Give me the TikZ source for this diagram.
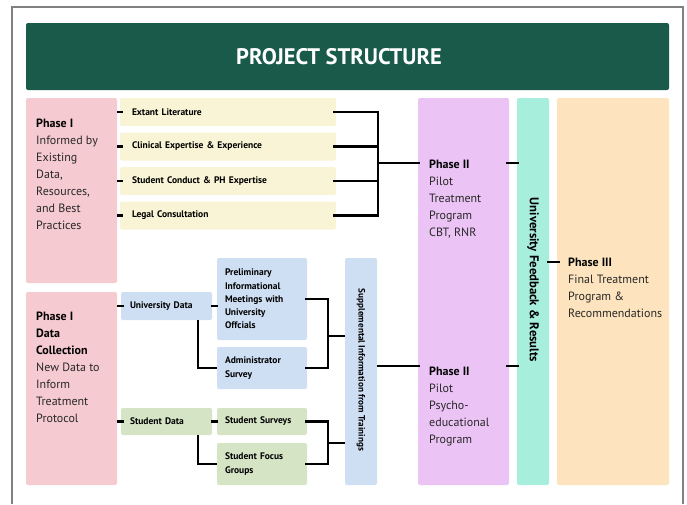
\documentclass[tikz,border=0pt]{standalone}
\usepackage{fontspec}
\setmainfont{PT Sans}
\usetikzlibrary{positioning}

\definecolor{headgreen}{RGB}{26,90,74}
\definecolor{pinkbox}{RGB}{245,202,208}
\definecolor{yelbox}{RGB}{248,244,213}
\definecolor{bluebox}{RGB}{207,223,243}
\definecolor{greenbox}{RGB}{214,228,198}
\definecolor{purplebox}{RGB}{235,196,245}
\definecolor{tealbox}{RGB}{168,238,221}
\definecolor{orangebox}{RGB}{253,228,190}
\definecolor{bodytext}{RGB}{40,40,40}

\begin{document}
\begin{tikzpicture}[x=1pt,y=-1pt,
	panel/.style={fill=#1, rounded corners=2pt, inner sep=0pt},
	cell/.style={fill=#1, rounded corners=2pt, inner ysep=0pt, align=left,
		font=\fontsize{9.5}{13.3}\selectfont\bfseries},
	body/.style={anchor=north west, inner sep=0pt, align=left, text=bodytext,
		font=\fontsize{12}{17}\selectfont},
	wire/.style={draw=black, line width=2.2pt}]
	\useasboundingbox (0,0) rectangle (687,504);

	% frame and title
	\draw[gray, line width=1.3pt] (12,504) -- (12,7) -- (683,7) -- (683,504);
	\node[panel=headgreen, minimum width=643pt, minimum height=67pt] (head) at (347.5,56.5) {};
	\node[text=white, font=\fontsize{22.5}{26}\selectfont\bfseries] (title) at (339,56.5) {PROJECT STRUCTURE};

	% big columns
	\node[panel=pinkbox, minimum width=91pt, minimum height=185pt] (phaseA) at (71.5,190.5) {};
	\node[panel=pinkbox, minimum width=91pt, minimum height=193pt] (phaseB) at (71.5,388.5) {};
	\node[panel=purplebox, minimum width=91pt, minimum height=387pt] (pilot) at (463.5,291.5) {};
	\node[panel=tealbox, minimum width=32pt, minimum height=387pt] (feedback) at (533,291.5) {};
	\node[panel=orangebox, minimum width=112pt, minimum height=387pt] (final) at (613,291.5) {};
	\node[panel=bluebox, minimum width=32pt, minimum height=227pt] (supp) at (361,371.5) {};

	\node[body] (phaseAtxt) at (36,119) {\textbf{\color{black}Phase I}\\Informed by\\Existing\\Data,\\Resources,\\and Best\\Practices};
	\node[body] (phaseBtxt) at (36,312) {\textbf{\color{black}Phase I}\\\textbf{\color{black}Data}\\\textbf{\color{black}Collection}\\New Data to\\Inform\\Treatment\\Protocol};
	\node[body] (pilotAtxt) at (429,160) {\textbf{\color{black}Phase II}\\Pilot\\Treatment\\Program\\CBT, RNR};
	\node[body] (pilotBtxt) at (429,367) {\textbf{\color{black}Phase II}\\Pilot\\Psycho-\\educational\\Program};
	\node[body] (finaltxt) at (568,258) {\textbf{\color{black}Phase III}\\Final Treatment\\Program \&\\Recommendations};

	\node[rotate=-90, font=\fontsize{12.7}{14}\selectfont\bfseries] (fbtxt) at (533,280) {University Feedback \& Results};
	\node[rotate=-90, font=\fontsize{9.2}{10}\selectfont\bfseries] (supptxt) at (361,370) {Supplemental Information from Trainings};

	% phase I sources
	\node[cell=yelbox, inner xsep=12pt, text width=192pt, minimum height=28pt] (lit) at (228,112) {Extant Literature};
	\node[cell=yelbox, inner xsep=12pt, text width=192pt, minimum height=28pt] (clin) at (228,146.5) {Clinical Expertise \& Experience};
	\node[cell=yelbox, inner xsep=12pt, text width=192pt, minimum height=28pt] (conduct) at (228,181) {Student Conduct \& PH Expertise};
	\node[cell=yelbox, inner xsep=12pt, text width=192pt, minimum height=28pt] (legal) at (228,215.5) {Legal Consultation};

	% data collection
	\node[cell=bluebox, inner xsep=9pt, text width=73pt, minimum height=28pt] (univ) at (166.5,306) {University Data};
	\node[cell=bluebox, inner xsep=8pt, text width=74pt, minimum height=82pt] (prelim) at (262,299) {Preliminary\\Informational\\Meetings with\\University\\Offcials};
	\node[cell=bluebox, inner xsep=8pt, text width=74pt, minimum height=42pt] (admin) at (262,368) {Administrator\\Survey};
	\node[cell=greenbox, inner xsep=9pt, text width=73pt, minimum height=27pt] (stud) at (166.5,421.5) {Student Data};
	\node[cell=greenbox, inner xsep=8pt, text width=74pt, minimum height=27pt] (surveys) at (262,421.5) {Student Surveys};
	\node[cell=greenbox, inner xsep=8pt, text width=74pt, minimum height=42pt] (focus) at (262,464) {Student Focus\\Groups};

	\coordinate (joinA) at (378,163);
	\coordinate (joinB) at (328,336);
	\coordinate (joinC) at (328,443);

	% connectors
	\foreach \src in {lit,clin,conduct,legal}
		\draw[wire] (\src.west -| phaseA.east) -- ([xshift=3pt]\src.west);
	\draw[wire] ([xshift=-3pt]lit.east) -- (lit.east -| joinA) -- (legal.east -| joinA) -- ([xshift=-3pt]legal.east);
	\draw[wire] ([xshift=-3pt]clin.east) -- (clin.east -| joinA);
	\draw[wire] ([xshift=-3pt]conduct.east) -- (conduct.east -| joinA);
	\draw[wire] (joinA) -- ([xshift=2pt]joinA -| pilot.west);

	\draw[wire] (univ.west -| phaseB.east) -- ([xshift=3pt]univ.west);
	\draw[wire] ([xshift=-1pt]univ.east) -- ([xshift=1pt]univ.east -| prelim.west);
	\draw[wire] ([xshift=31.5pt]univ.south) |- (admin.west);
	\draw[wire] ([xshift=-2pt]prelim.east) -| (joinB) |- ([xshift=-2pt]admin.east);
	\draw[wire] (joinB) -- (joinB -| supp.west);

	\draw[wire] (stud.west -| phaseB.east) -- ([xshift=3pt]stud.west);
	\draw[wire] ([xshift=-1pt]stud.east) -- ([xshift=1pt]stud.east -| surveys.west);
	\draw[wire] ([xshift=31.5pt]stud.south) |- (focus.west);
	\draw[wire] ([xshift=-2pt]surveys.east) -| (joinC) |- ([xshift=-2pt]focus.east);
	\draw[wire] (joinC) -- (joinC -| supp.west);

	\draw[wire] (supp.east |- 0,366) -- ([xshift=2pt]pilot.west |- 0,366);
	\draw[wire] ([xshift=-3pt]pilot.east |- joinA) -- ([xshift=2pt]feedback.west |- joinA);
	\draw[wire] ([xshift=-3pt]pilot.east |- 0,366) -- ([xshift=2pt]feedback.west |- 0,366);
	\draw[wire] ([xshift=-2pt]feedback.east |- 0,262) -- ([xshift=3pt]final.west |- 0,262);
\end{tikzpicture}
\end{document}
